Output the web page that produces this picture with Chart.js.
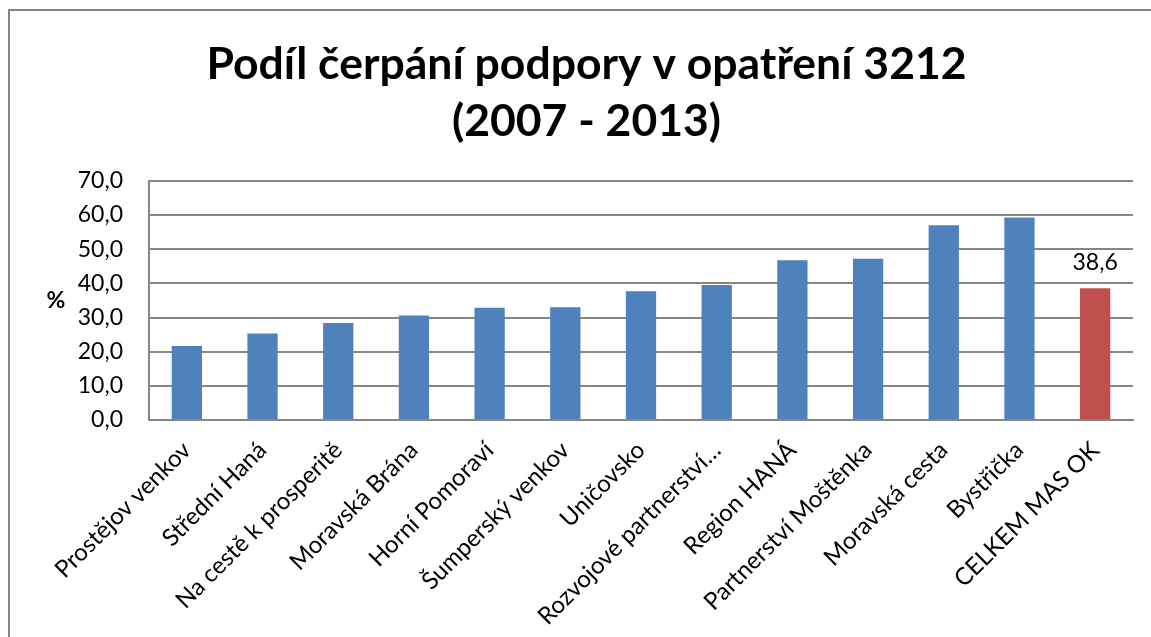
<!DOCTYPE html>
<html>
<head>
<meta charset="utf-8">
<script src="https://cdn.jsdelivr.net/npm/chart.js@4"></script>
<style>
  html, body { margin: 0; padding: 0; background: #fff; }
  #wrap { width: 1151px; height: 637px; position: relative; }
</style>
</head>
<body>
<div id="wrap"><canvas id="podilChart"></canvas></div>
<script>
// Kategorie (MAS) a hodnoty v %
const categories = [
    'Prostějov venkov', 'Střední Haná', 'Na cestě k prosperitě', 'Moravská Brána',
    'Horní Pomoraví', 'Šumperský venkov', 'Uničovsko', 'Rozvojové partnerství…',
    'Region HANÁ', 'Partnerství Moštěnka', 'Moravská cesta', 'Bystřička', 'CELKEM MAS OK'
];
const values = [21.7, 25.3, 28.4, 30.6, 32.9, 33.0, 37.7, 39.5, 46.8, 47.2, 57.0, 59.3, 38.6];
const barColors = ['#4F81BD', '#4F81BD', '#4F81BD', '#4F81BD', '#4F81BD', '#4F81BD', '#4F81BD',
    '#4F81BD', '#4F81BD', '#4F81BD', '#4F81BD', '#4F81BD', '#C0504D'];
const labeledIndex = 12; // jen celkem má popisek
const yTicks = [0, 10, 20, 30, 40, 50, 60, 70];

const fmt = v => v.toFixed(1).replace('.', ',');
const FONT = 'Lato, "Open Sans", sans-serif';

// ramecek, znak % a popisek hodnoty
const extras = {
    id: 'extras',
    beforeDraw(chart) {
        const c = chart.ctx;
        c.save();
        c.strokeStyle = '#868686';
        c.lineWidth = 2;
        c.beginPath();
        c.moveTo(9, chart.height);
        c.lineTo(9, 10);
        c.lineTo(chart.width, 10);
        c.stroke();
        c.restore();
    },
    afterDatasetsDraw(chart) {
        const c = chart.ctx;
        const area = chart.chartArea;
        c.save();
        c.fillStyle = '#000';
        c.font = 'bold 23px ' + FONT;
        c.textAlign = 'center';
        c.textBaseline = 'middle';
        c.fillText('%', area.left - 93, (area.top + area.bottom) / 2);

        const bar = chart.getDatasetMeta(0).data[labeledIndex];
        c.font = '23px ' + FONT;
        c.textBaseline = 'alphabetic';
        c.fillText(fmt(values[labeledIndex]), bar.x, bar.y - 18);
        c.restore();
    }
};

const ctx = document.getElementById('podilChart').getContext('2d');
const chart = new Chart(ctx, {
    type: 'bar',
    data: {
        labels: categories,
        datasets: [{
            data: values,
            backgroundColor: barColors,
            barPercentage: 0.4,
            categoryPercentage: 1.0
        }]
    },
    options: {
        responsive: true,
        maintainAspectRatio: false,
        animation: false,
        layout: { padding: { left: 40, right: 18, top: 0, bottom: 0 } },
        plugins: {
            legend: { display: false },
            tooltip: { enabled: false },
            title: {
                display: true,
                text: ['Podíl čerpání podpory v opatření 3212', '(2007 - 2013)'],
                color: '#000',
                font: { family: FONT, size: 44.5, weight: 'bold', lineHeight: 1.28 },
                padding: { top: 36, bottom: 31 }
            }
        },
        scales: {
            x: {
                grid: { display: false },
                border: { display: true, color: '#868686', width: 2 },
                ticks: {
                    color: '#000',
                    font: { family: FONT, size: 24 },
                    minRotation: 45,
                    maxRotation: 45,
                    autoSkip: false,
                    padding: 8
                },
                afterFit(scale) { scale.height = 217; }
            },
            y: {
                min: 0,
                max: 70,
                afterBuildTicks(scale) { scale.ticks = yTicks.map(v => ({ value: v })); },
                grid: { color: '#868686', lineWidth: 2, drawTicks: false },
                border: { display: true, color: '#868686', width: 2 },
                ticks: {
                    color: '#000',
                    font: { family: FONT, size: 23 },
                    padding: 26,
                    callback: v => fmt(v)
                },
                afterFit(scale) { scale.width = 109; }
            }
        }
    },
    plugins: [extras]
});
</script>
</body>
</html>
